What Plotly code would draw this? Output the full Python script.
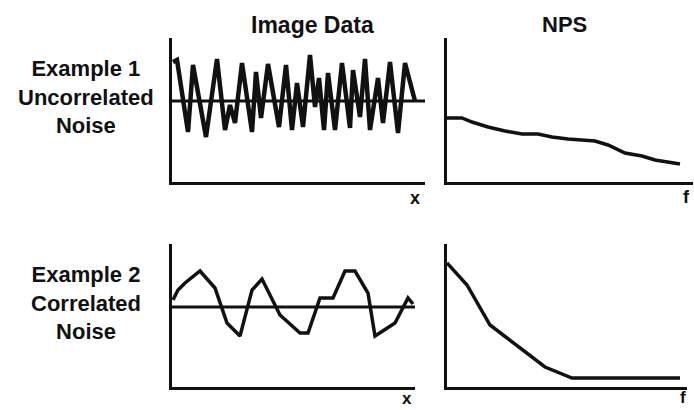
import plotly.graph_objects as go

W, H = 694, 410

# ---- data (arbitrary units) ----
# Example 1: uncorrelated noise (image data)
noise1_x = [1, 5, 16, 21, 34, 45, 53, 58, 63, 70, 80, 84, 89, 96, 107, 114, 120, 125,
            131, 138, 143, 147, 152, 156, 163, 170, 178, 181, 188, 193, 198, 206, 211,
            218, 226, 233, 243]
noise1_y = [120, 122, 50, 117, 45, 123, 52, 77, 59, 119, 50, 110, 64, 118, 55, 117, 52, 99,
            55, 127, 75, 104, 52, 109, 52, 119, 54, 112, 65, 123, 52, 104, 59, 120, 49,
            119, 81]
mean1 = 81

# Example 1: NPS (flat-ish)
nps1_f = [0, 15, 25, 41, 58, 75, 91, 105, 121, 148, 161, 178, 195, 208, 233]
nps1_v = [64, 64, 60, 55, 51, 48, 48, 45, 43, 41, 37, 29, 26, 22, 18]

# Example 2: correlated noise (image data)
noise2_x = [1, 6, 13, 28, 43, 55, 68, 80, 90, 108, 128, 136, 148, 161, 173, 183, 196, 203,
            223, 236, 241]
noise2_y = [87, 97, 104, 116, 99, 64, 51, 97, 108, 72, 54, 54, 89, 89, 116, 116, 94, 51,
            64, 89, 83]
mean2 = 80

# Example 2: NPS (low-frequency dominated)
nps2_f = [0, 20, 43, 65, 98, 125, 233]
nps2_v = [124, 102, 62, 45, 20, 9, 9]

# ---- panel geometry (pixels) ----
panels = {
    # name: (x0, x1, ytop, ybottom)
    "tl": (172, 425, 38, 182),
    "tr": (447, 693, 38, 182),
    "bl": (172, 415, 244, 387),
    "br": (447, 687, 244, 387),
}

fig = go.Figure()
LINE = "#111111"

def add(xs, ys, ax, width=3.5):
    fig.add_trace(go.Scatter(x=xs, y=ys, mode="lines", xaxis=ax[0], yaxis=ax[1],
                             line=dict(color=LINE, width=width, shape="linear"),
                             hoverinfo="skip", showlegend=False))

add(noise1_x, noise1_y, ("x", "y"), 4.5)
add([0, panels["tl"][1] - panels["tl"][0]], [mean1, mean1], ("x", "y"), 3)
add(nps1_f, nps1_v, ("x2", "y2"), 3.5)
add(noise2_x, noise2_y, ("x3", "y3"), 3.5)
add([0, panels["bl"][1] - panels["bl"][0]], [mean2, mean2], ("x3", "y3"), 3)
add(nps2_f, nps2_v, ("x4", "y4"), 3.5)

layout = dict(width=W, height=H, margin=dict(l=0, r=0, t=0, b=0),
              paper_bgcolor="white", plot_bgcolor="white", showlegend=False)

names = ["tl", "tr", "bl", "br"]
for i, n in enumerate(names):
    x0, x1, yt, yb = panels[n]
    sfx = "" if i == 0 else str(i + 1)
    common = dict(showgrid=False, zeroline=False, showticklabels=False, ticks="",
                  showline=True, linecolor=LINE, linewidth=3, mirror=False, fixedrange=True)
    layout["xaxis" + sfx] = dict(domain=[x0 / W, x1 / W], range=[0, x1 - x0],
                                 anchor="y" + sfx, **common)
    layout["yaxis" + sfx] = dict(domain=[1 - yb / H, 1 - yt / H], range=[0, yb - yt],
                                 anchor="x" + sfx, **common)

fig.update_layout(**layout)

FONT = "Liberation Sans, Arial, sans-serif"

def label(text, px, py, size):
    fig.add_annotation(text="<b>" + text + "</b>", x=px / W, y=1 - py / H,
                       xref="paper", yref="paper", xanchor="center", yanchor="middle",
                       showarrow=False, font=dict(family=FONT, size=size, color="#111111"))

label("Image Data", 312, 25, 23)
label("NPS", 564, 24, 22)
label("Example 1<br>Uncorrelated<br>Noise", 86, 97, 22)
label("Example 2<br>Correlated<br>Noise", 86, 303, 22)
label("x", 415, 198, 18)
label("f", 686, 197, 18)
label("x", 407, 398, 17)
label("f", 683, 397, 17)

fig.write_html("out.html", config={"staticPlot": True},
               post_script="document.body.style.margin='0';document.body.style.overflow='hidden';")
